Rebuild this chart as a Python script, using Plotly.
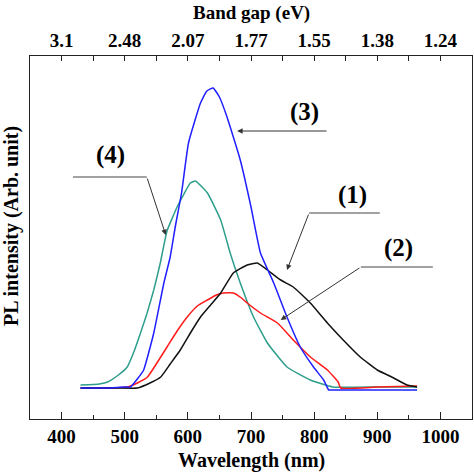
import plotly.graph_objects as go

# ---- data ----
wl_1 = [430, 490, 520, 540, 557, 572, 588, 604, 620, 636, 652, 672, 694, 710, 726, 747, 767, 794, 821, 846, 873, 900, 926, 947, 963]
pl_1 = [31, 31, 31, 36, 42, 55, 69, 86, 102, 114, 126, 146, 154, 156, 149, 139, 132, 116, 96, 79, 62, 49, 41, 34, 32]

wl_2 = [430, 480, 504, 520, 536, 550, 567, 583, 599, 615, 631, 645, 656, 672, 685, 694, 715, 742, 767, 794, 821, 838, 842, 900, 963]
pl_2 = [31, 31, 32, 36, 42, 55, 72, 88, 102, 113, 119, 124, 126, 126, 121, 116, 106, 96, 79, 62, 49, 37, 31, 32, 33]

wl_3 = [430, 470, 500, 509, 520, 530, 546, 562, 572, 580, 590, 601, 620, 630, 640, 650, 662, 683, 700, 715, 736, 757, 778, 799, 815, 823, 826, 900, 963]
pl_3 = [31, 31, 32, 32, 40, 49, 86, 136, 162, 192, 226, 276, 316, 328, 331, 322, 302, 259, 212, 166, 136, 102, 72, 52, 39, 29, 29, 29, 29]

wl_4 = [430, 460, 473, 490, 504, 515, 525, 535, 546, 556, 567, 583, 604, 612, 631, 652, 667, 683, 704, 726, 757, 794, 830, 900, 963]
pl_4 = [34, 35, 37, 44, 52, 68, 86, 105, 129, 155, 188, 212, 236, 238, 226, 199, 166, 136, 102, 76, 52, 39, 32, 32, 32]

x_ticks = [400, 500, 600, 700, 800, 900, 1000]
ev_labels = ["3.1", "2.48", "2.07", "1.77", "1.55", "1.38", "1.24"]

FONT = "Liberation Serif"
fig = go.Figure()
series = [(wl_4, pl_4, "#2e9e8c"), (wl_2, pl_2, "#ff1a1a"), (wl_1, pl_1, "#111111"), (wl_3, pl_3, "#1f1fff")]
for wx, wy, c in series:
    fig.add_trace(go.Scatter(x=wx, y=wy, mode="lines", line=dict(color=c, width=1.5, shape="spline", smoothing=0.4),
                             showlegend=False, hoverinfo="skip"))
# invisible trace on top axis
fig.add_trace(go.Scatter(x=[400, 1000], y=[0, 0], xaxis="x2", mode="markers", marker=dict(opacity=0), showlegend=False, hoverinfo="skip"))

axis_font = dict(family=FONT, size=19, color="black", weight="bold")
fig.update_layout(
    width=474, height=474,
    margin=dict(l=30, r=2, t=56, b=55, autoexpand=False),
    paper_bgcolor="white", plot_bgcolor="white",
    xaxis=dict(range=[350, 1050], tickvals=x_ticks, ticks="inside", ticklen=7, tickwidth=1.2, tickcolor="#222",
               minor=dict(dtick=50, tick0=350, ticks="inside", ticklen=4, tickcolor="#222"),
               showline=True, linecolor="#222", linewidth=1.3, mirror=False, showgrid=False, zeroline=False,
               tickfont=axis_font, automargin=False),
    xaxis2=dict(range=[350, 1050], overlaying="x", side="top", tickvals=x_ticks, ticktext=ev_labels,
                ticks="inside", ticklen=5, tickwidth=1.2, tickcolor="#222",
                minor=dict(dtick=50, tick0=350, ticks="inside", ticklen=5, tickcolor="#222"),
                showline=True, linecolor="#222", linewidth=1.3, showgrid=False, zeroline=False,
                tickfont=axis_font, automargin=False),
    yaxis=dict(range=[0, 363], showticklabels=False, ticks="", showline=True, linecolor="#222", linewidth=1.3,
               mirror=True, showgrid=False, zeroline=False, automargin=False),
)

# axis titles
fig.add_annotation(text="Band gap (eV)", x=0.5, y=1.1185, xref="paper", yref="paper", showarrow=False,
                   font=dict(family=FONT, size=19, color="black", weight="bold"), xanchor="center", yanchor="middle")
fig.add_annotation(text="Wavelength (nm)", x=0.5, y=-0.113, xref="paper", yref="paper", showarrow=False,
                   font=dict(family=FONT, size=20, color="black", weight="bold"), xanchor="center", yanchor="middle")
fig.add_annotation(text="PL intensity (Arb. unit)", x=-0.0407, y=0.532, xref="paper", yref="paper", showarrow=False,
                   textangle=-90, font=dict(family=FONT, size=20, color="black", weight="bold"),
                   xanchor="center", yanchor="middle")

lab_font = dict(family=FONT, size=25, color="black", weight="bold")
labels = [("(3)", 785, 307), ("(4)", 477, 264), ("(1)", 860, 224), ("(2)", 933, 171)]
for t, lx, ly in labels:
    fig.add_annotation(x=lx, y=ly, text=t, showarrow=False, font=lab_font, xref="x", yref="y")

# leader lines: (horizontal start, corner, arrow tip)
leaders = [
    ((822, 288), (822, 288), (678, 288)),
    ((418, 242), (535, 242), (565, 184)),
    ((904, 206), (792, 206), (757, 149)),
    ((988, 152), (874, 152), (747, 99)),
]
for (sx, sy), (cx, cy), (tx, ty) in leaders:
    if (sx, sy) != (cx, cy):
        fig.add_shape(type="line", x0=sx, y0=sy, x1=cx, y1=cy, xref="x", yref="y", line=dict(color="#444", width=1))
    fig.add_annotation(x=tx, y=ty, ax=cx, ay=cy, axref="x", ayref="y", xref="x", yref="y", text="",
                       showarrow=True, arrowhead=2, arrowsize=1.1, arrowwidth=1, arrowcolor="#333")

fig.write_html("out.html", config={"displayModeBar": False},
               post_script="document.body.style.margin='0px';document.body.style.overflow='hidden';")
